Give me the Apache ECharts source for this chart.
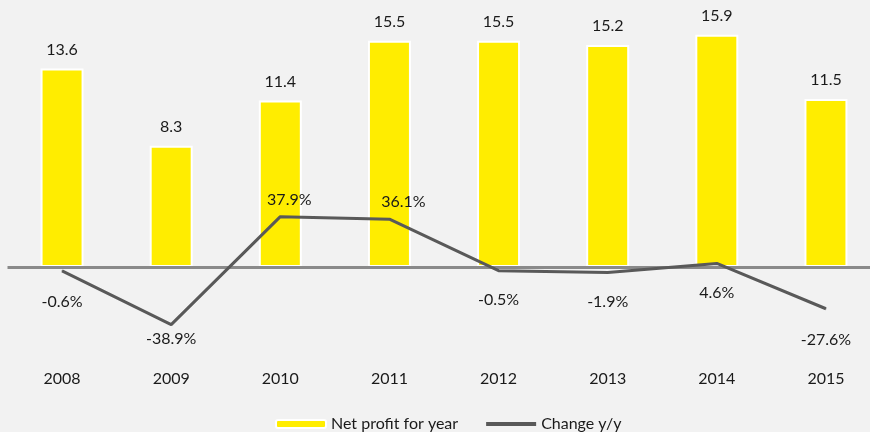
<!DOCTYPE html>
<html>
<head>
<meta charset="utf-8">
<script src="https://cdn.jsdelivr.net/npm/echarts@6/dist/echarts.min.js"></script>
<style>
  html, body { margin: 0; padding: 0; background: #f2f2f2; }
  #chart { width: 870px; height: 432px; }
</style>
</head>
<body>
<div id="chart"></div>
<script>
var years = ['2008', '2009', '2010', '2011', '2012', '2013', '2014', '2015'];
var netProfit = [13.6, 8.3, 11.4, 15.5, 15.5, 15.2, 15.9, 11.5];
var changeYY = [-0.6, -38.9, 37.9, 36.1, -0.5, -1.9, 4.6, -27.6];

// label nudges for the line values (dx, dy from the point)
var lineLabelOffsets = [[0, 31], [0, 14], [9, -17], [14, -17], [0, 29], [0, 29], [0, 29], [0, 31]];

var chart = echarts.init(document.getElementById('chart'));
var font = 'Lato, "DejaVu Sans", sans-serif';

var lineData = [];
for (var i = 0; i < changeYY.length; i++) {
  lineData.push({
    value: changeYY[i],
    label: { offset: lineLabelOffsets[i] }
  });
}

chart.setOption({
  backgroundColor: '#f2f2f2',
  animation: false,
  textStyle: { fontFamily: font },
  grid: { left: 7.5, width: 873, top: 10, bottom: 77, outerBoundsMode: 'none', containLabel: false },
  legend: {
    left: 270,
    top: 411,
    itemWidth: 50,
    itemHeight: 8,
    itemGap: 28,
    textStyle: { fontSize: 16, color: '#1a1a1a', fontFamily: font },
    data: [
      { name: 'Net profit for year' },
      { name: 'Change y/y', icon: 'path://M0,0H50V4H0Z' }
    ]
  },
  xAxis: {
    type: 'category',
    data: years,
    axisLine: { show: false },
    axisTick: { show: false },
    axisLabel: { fontSize: 16, color: '#1a1a1a', margin: 16 }
  },
  yAxis: [
    { type: 'value', min: -6.03, max: 17.6, show: false, splitLine: { show: false } },
    { type: 'value', min: -60.5, max: 184.9, show: false, splitLine: { show: false } }
  ],
  series: [
    {
      name: 'Net profit for year',
      type: 'bar',
      yAxisIndex: 0,
      data: netProfit,
      barWidth: 43,
      itemStyle: { color: '#ffed00', borderColor: '#ffffff', borderWidth: 2 },
      label: {
        show: true,
        position: 'top',
        distance: 11,
        fontSize: 16,
        color: '#1a1a1a'
      },
      markLine: {
        silent: true,
        symbol: 'none',
        label: { show: false },
        lineStyle: { color: '#8a8a8a', width: 3, type: 'solid' },
        data: [{ yAxis: 0 }]
      }
    },
    {
      name: 'Change y/y',
      type: 'line',
      yAxisIndex: 1,
      data: lineData,
      symbol: 'circle',
      symbolSize: 1,
      z: 5,
      itemStyle: { color: '#595959' },
      lineStyle: { color: '#595959', width: 3 },
      label: {
        show: true,
        position: 'inside',
        fontSize: 16,
        color: '#1a1a1a',
        formatter: function (p) { return p.value + '%'; }
      }
    }
  ]
});
</script>
</body>
</html>
